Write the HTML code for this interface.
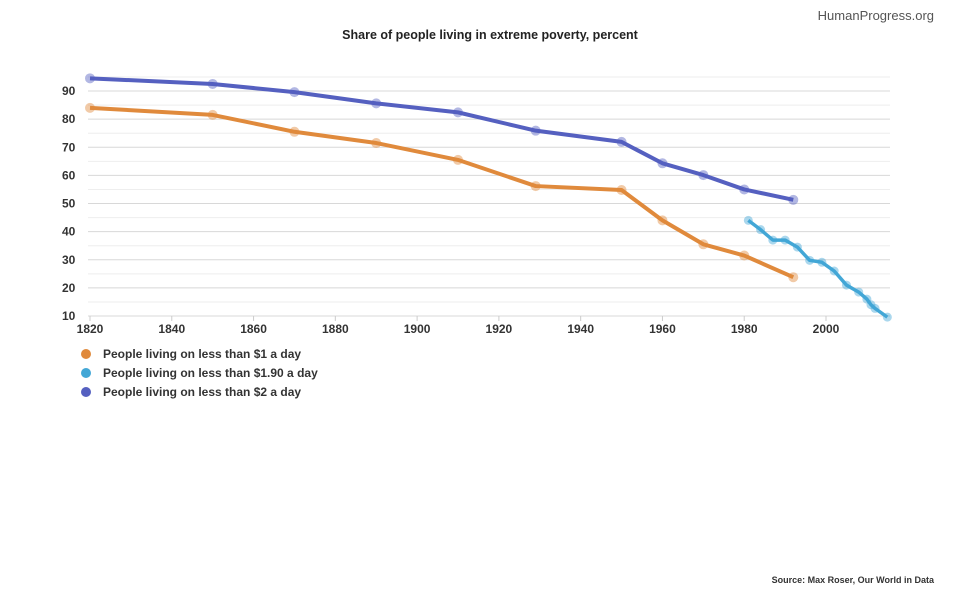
<!DOCTYPE html>
<html><head><meta charset="utf-8"><style>
body{margin:0;background:#fff;width:970px;height:599px;overflow:hidden;font-family:"Liberation Sans",sans-serif;}
</style></head><body>
<svg width="970" height="599" id="chart">
<text x="934" y="20" text-anchor="end" font-size="13" fill="#555">HumanProgress.org</text>
<text x="490" y="39" text-anchor="middle" font-size="12.5" font-weight="bold" fill="#222">Share of people living in extreme poverty, percent</text>
<text x="934" y="583" text-anchor="end" font-size="9" font-weight="bold" fill="#333">Source: Max Roser, Our World in Data</text>
<g id="grid"></g><g id="axes"></g><g id="series"></g><g id="legend"></g>
</svg>
<script>
const xTicks=[1820,1840,1860,1880,1900,1920,1940,1960,1980,2000];
const yTicks=[10,20,30,40,50,60,70,80,90];
const yearsOne=[1820,1850,1870,1890,1910,1929,1950,1960,1970,1980,1992];
const valsOne=[84,81.5,75.5,71.5,65.5,56.2,54.8,44,35.5,31.5,23.8];
const yearsTwo=[1820,1850,1870,1890,1910,1929,1950,1960,1970,1980,1992];
const valsTwo=[94.5,92.5,89.6,85.6,82.4,75.9,71.9,64.3,60.1,55,51.3];
const yearsNineteen=[1981,1984,1987,1990,1993,1996,1999,2002,2005,2008,2010,2011,2012,2015];
const valsNineteen=[44,40.7,37,37,34.5,29.8,29.1,26,21,18.5,16,14,12.7,9.6];
const legendLabels=["People living on less than $1 a day","People living on less than $1.90 a day","People living on less than $2 a day"];
const NS="http://www.w3.org/2000/svg";
const X=y=>90+(y-1820)*(736/180);
const Y=v=>316-(v-10)*(225/80);
function mk(t,a,p){const e=document.createElementNS(NS,t);for(const k in a)e.setAttribute(k,a[k]);p.appendChild(e);return e;}
const grid=document.getElementById('grid'),axes=document.getElementById('axes'),ser=document.getElementById('series'),leg=document.getElementById('legend');
for(let v=10;v<=95;v+=5){
 const l=mk('line',{x1:88,x2:890,y1:Y(v),y2:Y(v),stroke:v%10?'#eeeeee':'#d8d8d8','stroke-width':1},grid);
 
 
}
yTicks.forEach(v=>{const t=mk('text',{x:62,y:Y(v)+4,'font-size':12,'font-weight':'bold',fill:'#333'},axes);t.textContent=v;
 
 });
xTicks.forEach(y=>{const t=mk('text',{x:X(y),y:333,'font-size':12,'font-weight':'bold',fill:'#333','text-anchor':'middle'},axes);t.textContent=y;
 
 
 const tk=mk('line',{x1:X(y),x2:X(y),y1:316,y2:321,stroke:'#ccc'},axes);
 
 });
function draw(ys,vs,col,name,w,r){
 const g=mk('g',{},ser);
 
 
 const p=mk('polyline',{points:ys.map((y,i)=>X(y)+','+Y(vs[i])).join(' '),fill:'none',stroke:col,'stroke-width':w,'stroke-linejoin':'round'},g);
 
 
 ys.forEach((y,i)=>{const c=mk('circle',{cx:X(y),cy:Y(vs[i]),r:r,fill:col,'fill-opacity':0.45},g);
  
  });
}
draw(yearsOne,valsOne,'#e08a3c','series-1-dollar',4,5);
draw(yearsTwo,valsTwo,'#5560c0','series-2-dollar',4,5);
draw(yearsNineteen,valsNineteen,'#43a7d6',  'series-190-dollar',3.5,4.5);
const cols=['#e08a3c','#43a7d6','#5560c0'];
legendLabels.forEach((s,i)=>{const y=354+i*19;
 const c=mk('circle',{cx:86,cy:y,r:5,fill:cols[i]},leg);
 
 
 const t=mk('text',{x:103,y:y+4,'font-size':12,'font-weight':'bold',fill:'#333'},leg);t.textContent=s;
 
 });
</script>
</body></html>
